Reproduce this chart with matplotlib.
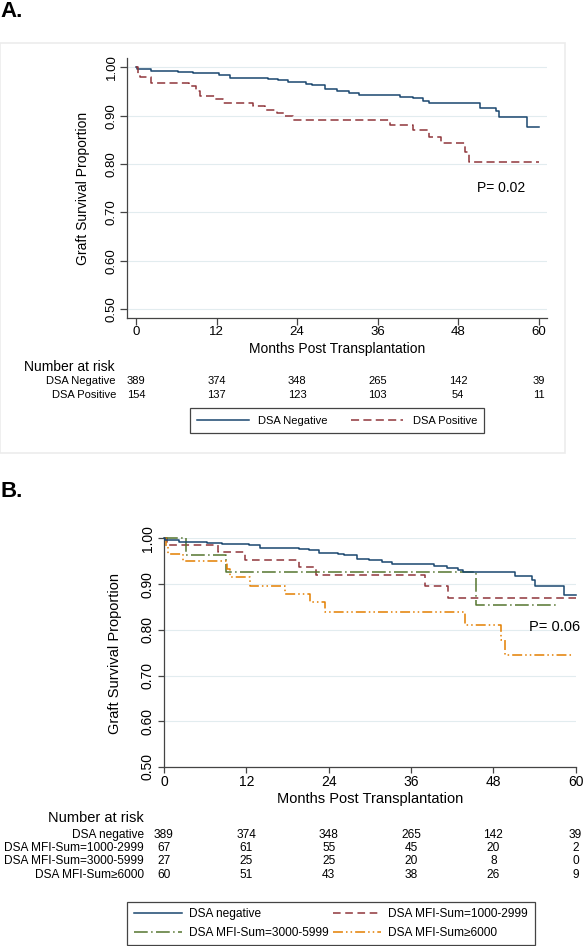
#!/usr/bin/env python3
import matplotlib.pyplot as plt
from matplotlib.patches import Rectangle
from matplotlib.transforms import blended_transform_factory

plt.rcParams['font.family'] = ['Liberation Sans', 'DejaVu Sans']

# panel A: DSA negative / positive (months, survival)
neg_t = [0, 0.2, 2.2, 6.3, 8.5, 12.4, 14.0, 19.7, 21.2, 22.6, 25.4, 26.2, 28.2,
         29.9, 31.8, 33.3, 39.4, 41.3, 42.8, 43.6, 51.2, 53.7, 54.1, 58.3, 60]
neg_s = [1.0, 0.996, 0.993, 0.990, 0.988, 0.985, 0.979, 0.977, 0.974, 0.969,
         0.966, 0.963, 0.956, 0.952, 0.948, 0.944, 0.939, 0.936, 0.930, 0.926,
         0.917, 0.910, 0.897, 0.877, 0.877]
pos_t = [0, 0.3, 0.6, 2.2, 7.9, 9.0, 9.6, 11.8, 13.0, 17.5, 19.2, 21.0, 22.0,
         23.4, 37.9, 41.3, 43.7, 45.4, 49.0, 49.6, 60]
pos_s = [1.0, 0.987, 0.980, 0.967, 0.961, 0.952, 0.941, 0.934, 0.927, 0.920,
         0.913, 0.906, 0.899, 0.891, 0.881, 0.871, 0.857, 0.843, 0.825, 0.805,
         0.805]

# panel B: DSA by MFI-sum
mfi1_t = [0, 0.4, 7.9, 11.8, 19.7, 22.2, 38.0, 41.4, 60]
mfi1_s = [1.0, 0.985, 0.971, 0.954, 0.938, 0.921, 0.897, 0.870, 0.870]
mfi2_t = [0, 3.2, 9.0, 45.5, 57.1]
mfi2_s = [1.0, 0.963, 0.926, 0.855, 0.855]
mfi3_t = [0, 0.3, 0.6, 2.8, 9.2, 9.6, 12.5, 17.6, 21.3, 23.5, 43.9, 49.1,
          49.7, 59.7]
mfi3_s = [1.0, 0.983, 0.967, 0.950, 0.933, 0.915, 0.897, 0.879, 0.860, 0.840,
          0.810, 0.777, 0.745, 0.745]

months = [0, 12, 24, 36, 48, 60]
yticks = [0.5, 0.6, 0.7, 0.8, 0.9, 1.0]

risk_a_labels = ['DSA Negative', 'DSA Positive']
risk_a = [[389, 374, 348, 265, 142, 39],
          [154, 137, 123, 103, 54, 11]]
risk_b_labels = ['DSA negative', 'DSA MFI-Sum=1000-2999',
                 'DSA MFI-Sum=3000-5999', 'DSA MFI-Sum\u22656000']
risk_b = [[389, 374, 348, 265, 142, 39],
          [67, 61, 55, 45, 20, 2],
          [27, 25, 25, 20, 8, 0],
          [60, 51, 43, 38, 26, 9]]

NAVY = '#1a476f'
MAROON = '#90353b'
GREEN = '#55752f'
ORANGE = '#e37e00'
GRID = '#e2ecef'
AXC = '#444444'

W, H = 584, 946


def fx(px):
    return px / W


def fy(py):
    return 1 - py / H


def style_axes(ax, fs, ticklen, ypad, xpad):
    for s in ('top', 'right'):
        ax.spines[s].set_visible(False)
    for s in ('left', 'bottom'):
        ax.spines[s].set_color(AXC)
        ax.spines[s].set_linewidth(0.9)
    ax.set_xticks(months)
    ax.set_yticks(yticks)
    ax.set_yticklabels(['%.2f' % v for v in yticks], rotation=90, va='center')
    ax.tick_params(axis='both', colors=AXC, labelcolor='black', labelsize=fs,
                   length=ticklen, width=0.9)
    ax.tick_params(axis='y', pad=ypad)
    ax.tick_params(axis='x', pad=xpad)
    for y in yticks:
        ax.axhline(y, color=GRID, lw=0.8, zorder=0)


def main():
    fig = plt.figure(figsize=(W / 100, H / 100), dpi=100)

    # ---------- panel A ----------
    fig.add_artist(Rectangle((0, fy(453)), fx(565), fy(43) - fy(453),
                             transform=fig.transFigure, fill=False,
                             edgecolor='#ececec', lw=1.2))
    fig.text(fx(0), fy(1), 'A.', fontsize=16, fontweight='bold',
             ha='left', va='top')

    axa = fig.add_axes([fx(126.7), fy(318.3), fx(547.3) - fx(126.7),
                        fy(58.3) - fy(318.3)])
    axa.set_xlim(-1.4, 61.3)
    axa.set_ylim(0.481, 1.019)
    style_axes(axa, 9.5, 4.8, 1.8, 1.0)
    la, = axa.step(neg_t, neg_s, where='post', color=NAVY, lw=1.1,
                   label='DSA Negative')
    lb, = axa.step(pos_t, pos_s, where='post', color=MAROON, lw=1.1,
                   dashes=(5.3, 2.8), label='DSA Positive')
    axa.text(50.8, 0.75, 'P= 0.02', fontsize=10, ha='left', va='center')
    fig.text(fx(337), fy(349), 'Months Post Transplantation', fontsize=10,
             ha='center', va='center')
    fig.text(fx(83.3), fy(188.3), 'Graft Survival Proportion', fontsize=10,
             rotation=90, ha='center', va='center')

    tra = blended_transform_factory(axa.transData, fig.transFigure)
    fig.text(fx(115), fy(366.7), 'Number at risk', fontsize=10,
             ha='right', va='center')
    for i, (lab, row) in enumerate(zip(risk_a_labels, risk_a)):
        yy = fy(381 + 14 * i)
        fig.text(fx(116), yy, lab, fontsize=8, ha='right', va='center')
        for m, n in zip(months, row):
            axa.text(m, yy, str(n), fontsize=8, ha='center', va='center',
                     transform=tra)

    lega = fig.legend([la, lb], ['DSA Negative', 'DSA Positive'], loc='center',
                      bbox_to_anchor=(fx(337), fy(420.7)), ncol=2, fontsize=8,
                      handlelength=4.7, handletextpad=0.84, columnspacing=2.1,
                      borderpad=0.65, fancybox=False, edgecolor=AXC,
                      framealpha=1)
    lega.get_frame().set_linewidth(0.9)

    # ---------- panel B ----------
    fig.text(fx(0), fy(481), 'B.', fontsize=16, fontweight='bold',
             ha='left', va='top')
    axb = fig.add_axes([fx(164), fy(767), fx(575.7) - fx(164),
                        fy(538.5) - fy(767)])
    axb.set_xlim(0, 60)
    axb.set_ylim(0.5, 1.0)
    style_axes(axb, 10, 4.0, 2.5, 1.8)
    h0, = axb.step(neg_t, neg_s, where='post', color=NAVY, lw=1.1,
                   clip_on=False, label=risk_b_labels[0], zorder=5)
    h1, = axb.step(mfi1_t, mfi1_s, where='post', color=MAROON, lw=1.1,
                   dashes=(5.0, 3.0), clip_on=False, label=risk_b_labels[1])
    h2, = axb.step(mfi2_t, mfi2_s, where='post', color=GREEN, lw=1.1,
                   dashes=(9.0, 2.2, 1.0, 2.2), clip_on=False,
                   label=risk_b_labels[2])
    h3, = axb.step(mfi3_t, mfi3_s, where='post', color=ORANGE, lw=1.1,
                   dashes=(6.5, 2.0, 1.0, 2.0, 1.0, 2.0), clip_on=False,
                   label=risk_b_labels[3])
    axb.text(53.2, 0.807, 'P= 0.06', fontsize=10.5, ha='left', va='center',
             clip_on=False)
    fig.text(fx(370), fy(799), 'Months Post Transplantation', fontsize=10.5,
             ha='center', va='center')
    fig.text(fx(115), fy(653), 'Graft Survival Proportion', fontsize=10.5,
             rotation=90, ha='center', va='center')

    trb = blended_transform_factory(axb.transData, fig.transFigure)
    fig.text(fx(144), fy(818), 'Number at risk', fontsize=10.5,
             ha='right', va='center')
    for i, (lab, row) in enumerate(zip(risk_b_labels, risk_b)):
        yy = fy(835 + 13.2 * i)
        fig.text(fx(144), yy, lab, fontsize=8.6, ha='right', va='center')
        for m, n in zip(months, row):
            axb.text(m, yy, str(n), fontsize=8.6, ha='center', va='center',
                     transform=trb)

    # column-major fill: first column is negative / 3000-5999
    legb = fig.legend([h0, h2, h1, h3],
                      [risk_b_labels[0], risk_b_labels[2],
                       risk_b_labels[1], risk_b_labels[3]],
                      loc='center', bbox_to_anchor=(fx(331), fy(923.5)),
                      ncol=2, fontsize=8.6, handlelength=4.0,
                      handletextpad=0.65, columnspacing=0.3, labelspacing=0.55,
                      borderpad=0.55, fancybox=False, edgecolor=AXC,
                      framealpha=1)
    legb.get_frame().set_linewidth(0.9)

    fig.savefig('out.png', dpi=100)


if __name__ == '__main__':
    main()
